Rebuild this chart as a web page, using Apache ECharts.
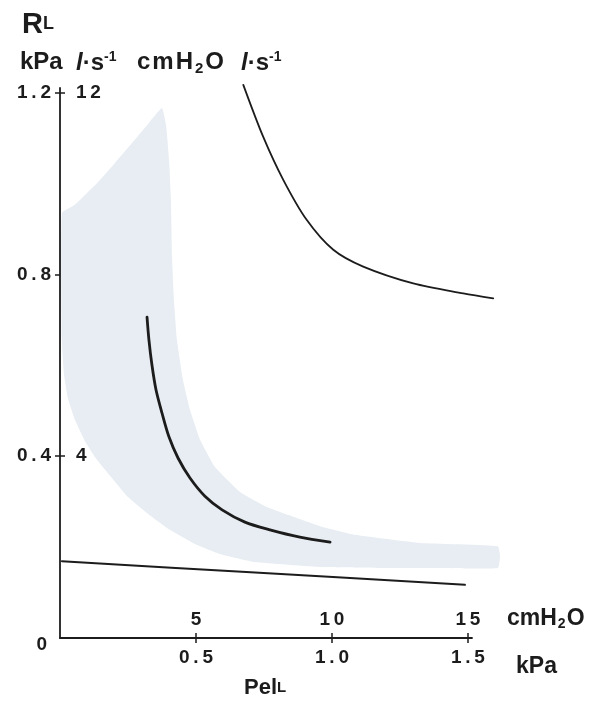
<!doctype html>
<html>
  <head>
    <meta charset="UTF-8" />
    <title>RL vs PelL</title>
    <style>
      html, body { margin: 0; padding: 0; background: #fff; }
      #chart { width: 606px; height: 702px; }
    </style>
  </head>
  <body>
    <div id="chart"></div>

    <script src="https://cdn.jsdelivr.net/npm/echarts@6/dist/echarts.min.js"></script>
    <script>
      // tick values (kPa on both axes)
      const xTicks = [0.5, 1.0, 1.5]
      const yTicks = [0, 0.4, 0.8, 1.2]
      const yTicksCm = [0.4, 1.2]

      // upper curve
      const upperX = [0.674, 0.747, 0.821, 0.907, 1.005, 1.115, 1.299, 1.483, 1.593]
      const upperY = [1.217, 1.103, 1.008, 0.92, 0.854, 0.817, 0.78, 0.758, 0.747]

      // middle (bold) curve
      const midX = [0.32, 0.327, 0.338, 0.353, 0.375, 0.401, 0.434, 0.478, 0.533, 0.596, 0.68, 0.772, 0.882, 0.993]
      const midY = [0.706, 0.656, 0.601, 0.546, 0.495, 0.442, 0.396, 0.352, 0.312, 0.282, 0.255, 0.238, 0.222, 0.211]

      // lower line
      const lowX = [0.007, 0.717, 1.489]
      const lowY = [0.169, 0.144, 0.117]

      // shaded band outline
      const bandX = [0.375, 0.39, 0.401, 0.408, 0.412, 0.419, 0.43, 0.452, 0.478, 0.515, 0.57, 0.662, 0.754,
        0.838, 0.956, 1.085, 1.324, 1.61, 1.618, 1.61, 1.397, 1.176, 0.963, 0.717, 0.588, 0.496, 0.404,
        0.324, 0.25, 0.191, 0.136, 0.092, 0.055, 0.029, 0.015, 0.007, 0.007, 0.055, 0.14, 0.202, 0.265, 0.324]
      const bandY = [1.166, 1.129, 1.052, 0.964, 0.838, 0.744, 0.656, 0.568, 0.502, 0.436, 0.376, 0.321, 0.29,
        0.271, 0.246, 0.227, 0.209, 0.202, 0.18, 0.154, 0.154, 0.154, 0.156, 0.167, 0.185, 0.207, 0.238,
        0.273, 0.31, 0.352, 0.392, 0.433, 0.48, 0.528, 0.579, 0.656, 0.935, 0.953, 1.003, 1.045, 1.089, 1.131]

      const pairs = (xs, ys) => xs.map((x, i) => [x, ys[i]])
      const spaced = s => s.split('').join('\u2009')

      const ink = '#1c1c1c'
      const font = 'Liberation Sans, Arial, sans-serif'
      const labelStyle = { color: ink, fontFamily: font, fontWeight: 'bold', fontSize: 19 }

      const chart = echarts.init(document.querySelector('#chart'))

      const xBase = { type: 'value', min: 0, max: 1.515, splitLine: { show: false } }
      const yBase = { type: 'value', min: 0, max: 1.21, splitLine: { show: false } }

      // a curve drawn through the axes' scales (may run past the axis end, as in the figure)
      function curve(name, xs, ys, width) {
        return {
          name,
          type: 'custom',
          clip: false,
          silent: true,
          z: 3,
          data: [0],
          renderItem: (params, api) => ({
            type: 'polyline',
            shape: { points: pairs(xs, ys).map(p => api.coord(p)), smooth: 0.3 },
            style: { stroke: ink, lineWidth: width, fill: null, lineCap: 'round' }
          })
        }
      }

      const bold = size => ({ fontFamily: font, fontWeight: 'bold', fontSize: size, fill: ink })

      const option = {
        animation: false,
        grid: { left: 60, top: 88, width: 412, height: 550 },
        xAxis: [
          {
            ...xBase,
            axisLine: { show: true, onZero: false, lineStyle: { color: ink, width: 1.8 } },
            axisTick: { show: true, inside: false, length: 5, customValues: xTicks, lineStyle: { color: ink, width: 1.5 } },
            axisLabel: { ...labelStyle, margin: 10, customValues: xTicks, formatter: v => spaced(v.toFixed(1)) }
          },
          {
            ...xBase,
            position: 'bottom',
            axisLine: { show: false },
            axisTick: { show: true, inside: true, length: 5, customValues: xTicks, lineStyle: { color: ink, width: 1.5 } },
            axisLabel: { ...labelStyle, inside: true, margin: 9, customValues: xTicks, formatter: v => spaced(String(Math.round(v * 10))) }
          }
        ],
        yAxis: [
          {
            ...yBase,
            axisLine: { show: true, onZero: false, lineStyle: { color: ink, width: 1.8 } },
            axisTick: { show: true, inside: false, length: 5, customValues: yTicks.slice(1), lineStyle: { color: ink, width: 1.5 } },
            axisLabel: {
              ...labelStyle,
              margin: 9,
              customValues: yTicks,
              formatter: v => (v === 0 ? '{z|0}' : spaced(v.toFixed(1))),
              rich: { z: { ...labelStyle, padding: [14, 4, 0, 0] } }
            }
          },
          {
            ...yBase,
            position: 'left',
            axisLine: { show: false },
            axisTick: { show: true, inside: true, length: 5, customValues: yTicksCm, lineStyle: { color: ink, width: 1.5 } },
            axisLabel: { ...labelStyle, inside: true, margin: 16, customValues: yTicksCm, formatter: v => spaced(String(Math.round(v * 10))) }
          }
        ],
        graphic: [
          {
            type: 'text', left: 22, top: 10,
            style: { text: '{r|R}{l|L}', rich: { r: bold(29), l: bold(18) } }
          },
          {
            type: 'text', left: 20, top: 50,
            style: { text: 'kPa', ...bold(24) }
          },
          {
            type: 'text', left: 76, top: 50,
            style: {
              text: '{i|l}{t|·s}{sup|-1}',
              rich: { i: { ...bold(24), fontStyle: 'italic' }, t: bold(24), sup: { ...bold(14), padding: [0, 0, 12, 0] } }
            }
          },
          {
            type: 'text', left: 137, top: 50,
            style: {
              text: '{t|c\u200am\u200aH}{sub|2}{t|O}',
              rich: { t: bold(24), sub: { ...bold(15), padding: [14, 2, 0, 2] } }
            }
          },
          {
            type: 'text', left: 241, top: 50,
            style: {
              text: '{i|l}{t|·s}{sup|-1}',
              rich: { i: { ...bold(24), fontStyle: 'italic' }, t: bold(24), sup: { ...bold(14), padding: [0, 0, 12, 0] } }
            }
          },
          {
            type: 'text', left: 507, top: 607,
            style: {
              text: '{t|cmH}{sub|2}{t|O}',
              rich: { t: bold(23), sub: { ...bold(14), padding: [12, 1, 0, 1] } }
            }
          },
          {
            type: 'text', left: 516, top: 655,
            style: { text: 'kPa', ...bold(23) }
          },
          {
            type: 'text', left: 244, top: 677,
            style: { text: '{t|Pel}{s|L}', rich: { t: bold(22), s: bold(15) } }
          }
        ],
        series: [
          {
            name: 'band',
            type: 'custom',
            clip: false,
            silent: true,
            z: 1,
            data: [0],
            renderItem: (params, api) => ({
              type: 'polygon',
              shape: { points: pairs(bandX, bandY).map(p => api.coord(p)), smooth: 0.12 },
              style: { fill: '#e7edf2' }
            })
          },
          curve('upper', upperX, upperY, 1.8),
          curve('middle', midX, midY, 2.8),
          curve('lower', lowX, lowY, 2)
        ]
      }

      chart.setOption(option)
    </script>
  </body>
</html>
